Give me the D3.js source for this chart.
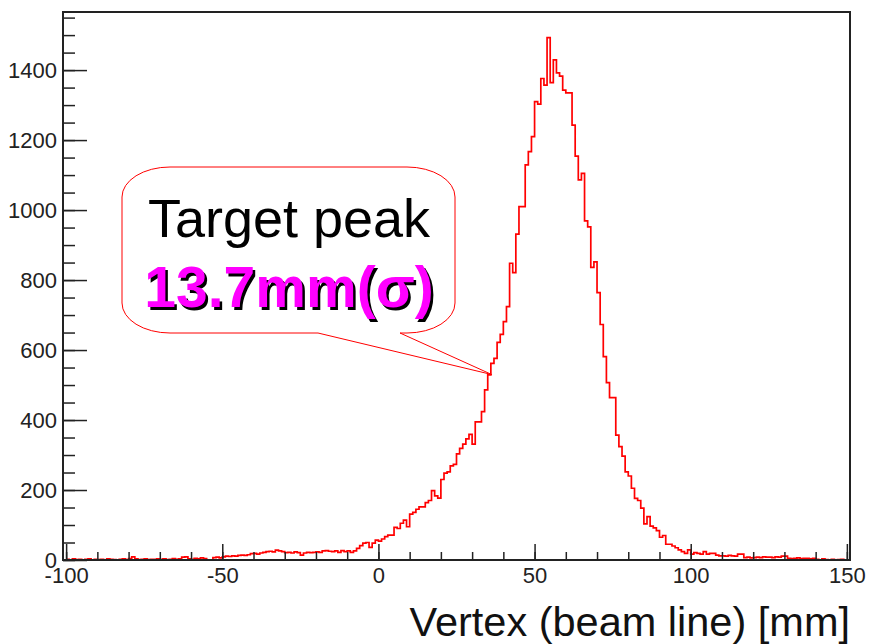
<!DOCTYPE html>
<html><head><meta charset="utf-8">
<script src="https://cdn.jsdelivr.net/npm/d3@7/dist/d3.min.js"></script>
<style>body{margin:0;background:#fff}svg{display:block}</style>
</head><body>
<svg id="c" width="871" height="644"></svg>
<script>
// ---- data: 1 mm bins from -100 to 150 ----
const binStart = -100;
const binWidth = 1;
const countsTailLeft = [   // -100 .. -51
  2,0,3,1,2,0,2,3,0,2,
  1,2,0,3,2,1,0,2,3,1,
  4,9,3,1,2,3,1,2,2,3,
  2,3,1,2,4,2,3,8,9,3,
  2,5,3,6,4,0,0,7,8,6];
const countsRise1 = [      // -50 .. -1
  9,11,10,12,11,13,14,13,15,18,
  19,17,20,22,24,25,23,28,26,24,
  21,22,20,23,21,14,20,22,21,22,
  23,22,26,27,25,24,26,22,27,24,
  26,22,26,33,41,48,50,36,48,57];
const countsRise2 = [      // 0 .. 49
  54,60,67,71,71,93,90,105,114,95,
  131,136,145,152,152,164,170,198,183,177,
  230,248,252,269,273,303,319,331,346,359,
  331,395,395,424,486,529,562,576,622,645,
  681,724,848,821,931,1010,1010,1129,1167,1210];
const countsPeakFall = [   // 50 .. 99
  1310,1303,1376,1357,1493,1364,1429,1392,1383,1343,
  1335,1335,1243,1154,1086,1105,969,952,836,852,
  764,673,581,507,464,464,357,324,297,252,
  240,205,176,170,148,103,124,97,92,84,
  65,70,45,45,40,35,29,24,19,29];
const countsTailRight = [  // 100 .. 149
  17,21,19,17,24,17,19,19,14,12,
  12,11,13,12,11,17,17,7,8,6,
  7,8,7,9,8,8,7,9,8,11,
  11,5,4,5,6,4,5,5,3,5,
  2,0,3,1,0,2,0,1,2,0];

const xDomain = [-101, 151];
const yDomain = [0, 1566];
const xMajorTicks = [-100, -50, 0, 50, 100, 150];
const xMinorTicks = d3.range(-100, 151, 10);
const yMajorTicks = [0, 200, 400, 600, 800, 1000, 1200, 1400];
const yMinorTicks = d3.range(0, 1566, 50);
const xTitle = "Vertex (beam line) [mm]";
const noteLine1 = "Target peak";
const noteLine2 = "13.7mm(σ)";
const noteTip = [36.3, 530];   // data point the callout points to

// ---- layout ----
const W = 871, H = 644;
const L = 63, R = 850, T = 12, B = 560;
const FONT = "'Liberation Sans', Arial, Helvetica, sans-serif";
const AX = "#222";

const svg = d3.select("#c");
const x = d3.scaleLinear().domain(xDomain).range([L, R]);
const y = d3.scaleLinear().domain(yDomain).range([B, T]);

const counts = [].concat(countsTailLeft, countsRise1, countsRise2, countsPeakFall, countsTailRight);
const pts = counts.map((c, i) => ({e: binStart + i * binWidth, c}));
pts.push({e: binStart + counts.length * binWidth, c: counts[counts.length - 1]});

// histogram
svg.append("path")
  .datum(pts)
  .attr("fill", "none")
  .attr("stroke", "#ff0000")
  .attr("stroke-width", 1.7)
  .attr("d", d3.line().curve(d3.curveStepAfter).x(d => x(d.e)).y(d => y(d.c)));

// axes
function styleAxis(g) {
  g.select(".domain").remove();
  g.selectAll("line").attr("stroke", AX).attr("stroke-width", 1.5);
  g.selectAll("text").attr("fill", AX).style("font-family", FONT).style("font-size", "22px");
}
const fmt = d => String(d);
svg.append("g").attr("transform", `translate(${L},0)`)
  .call(d3.axisLeft(y).tickValues(yMinorTicks).tickSize(-12).tickFormat(""))
  .call(styleAxis);
svg.append("g").attr("transform", `translate(${L},0)`)
  .call(d3.axisLeft(y).tickValues(yMajorTicks).tickSize(-24).tickPadding(6).tickFormat(fmt))
  .call(styleAxis);
svg.append("g").attr("transform", `translate(0,${B})`)
  .call(d3.axisBottom(x).tickValues(xMinorTicks).tickSize(-8).tickFormat(""))
  .call(styleAxis);
svg.append("g").attr("transform", `translate(0,${B})`)
  .call(d3.axisBottom(x).tickValues(xMajorTicks).tickSize(-16).tickPadding(7).tickFormat(fmt))
  .call(styleAxis);

// frame
svg.append("rect").attr("x", L).attr("y", T).attr("width", R - L).attr("height", B - T)
  .attr("fill", "none").attr("stroke", AX).attr("stroke-width", 2);

// x title
svg.append("text").attr("x", R).attr("y", 636).attr("text-anchor", "end")
  .style("font-family", FONT).style("font-size", "41.5px").attr("fill", "#111").text(xTitle);

// callout
const bx0 = 122, bx1 = 455, by0 = 167, by1 = 333, rx = 48, ry = 30;
const tipX = x(noteTip[0]), tipY = y(noteTip[1]);
const p1 = 318, p2 = 400;
const cp = [
  `M${bx0 + rx},${by0}`, `H${bx1 - rx}`, `A${rx},${ry} 0 0 1 ${bx1},${by0 + ry}`,
  `V${by1 - ry}`, `A${rx},${ry} 0 0 1 ${bx1 - rx},${by1}`,
  `H${p2}`, `L${tipX},${tipY}`, `L${p1},${by1}`,
  `H${bx0 + rx}`, `A${rx},${ry} 0 0 1 ${bx0},${by1 - ry}`,
  `V${by0 + ry}`, `A${rx},${ry} 0 0 1 ${bx0 + rx},${by0}`, "Z"].join("");
svg.append("path").attr("d", cp).attr("fill", "#fff").attr("stroke", "#ff0000").attr("stroke-width", 1);

const cx = 289;
svg.append("text").attr("x", cx).attr("y", 237).attr("text-anchor", "middle")
  .style("font-family", FONT).style("font-size", "54px").attr("fill", "#000").text(noteLine1);
svg.append("text").attr("x", cx + 2.5).attr("y", 307 + 2.5).attr("text-anchor", "middle")
  .style("font-family", FONT).style("font-size", "57px").style("font-weight", "bold").attr("fill", "#000").text(noteLine2);
svg.append("text").attr("x", cx).attr("y", 307).attr("text-anchor", "middle")
  .style("font-family", FONT).style("font-size", "57px").style("font-weight", "bold").attr("fill", "#ff00ff").text(noteLine2);
</script>
</body></html>
